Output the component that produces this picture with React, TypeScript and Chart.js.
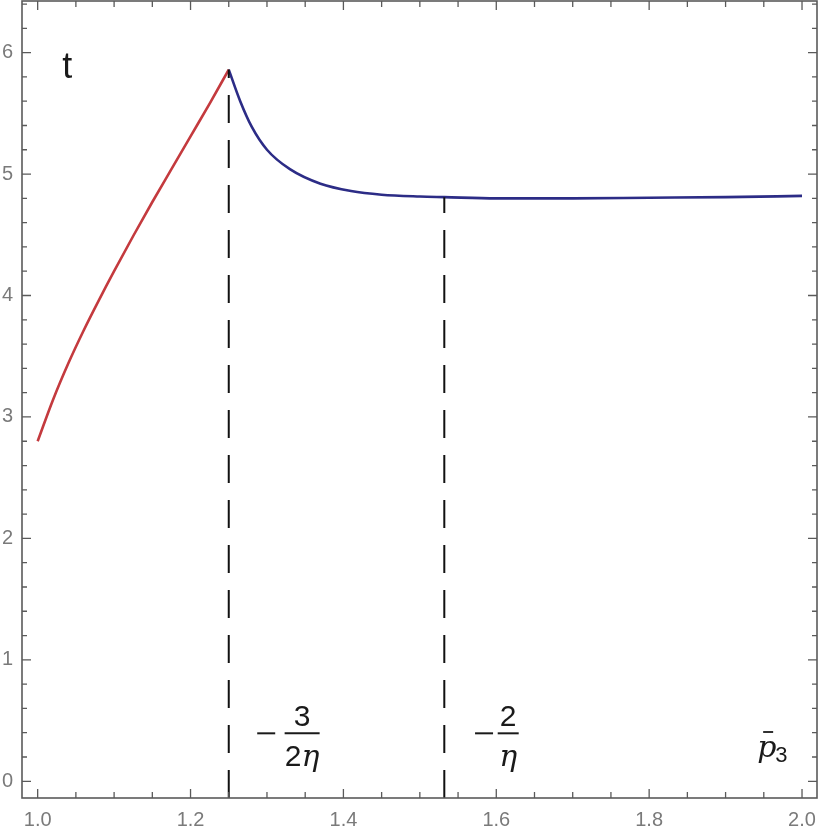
import React, { useEffect, useRef } from "react";
import { Chart, registerables } from "chart.js";

Chart.register(...registerables);

// ---- data ----
const redX = [1.0, 1.02, 1.04, 1.06, 1.08, 1.1, 1.125, 1.15, 1.175, 1.2, 1.225, 1.25];
const redY = [2.8, 3.14, 3.44, 3.71, 3.96, 4.2, 4.49, 4.77, 5.04, 5.31, 5.58, 5.86];
const blueX = [1.25, 1.265, 1.28, 1.3, 1.33, 1.37, 1.41, 1.45, 1.5, 1.532, 1.6, 1.7, 1.8, 1.9, 2.0];
const blueY = [5.86, 5.6, 5.39, 5.2, 5.04, 4.92, 4.86, 4.83, 4.815, 4.81, 4.8, 4.8, 4.805, 4.81, 4.82];
const dashX = [1.25, 1.532];
const dashTop = [5.86, 4.81];
const xMajor = [1.0, 1.2, 1.4, 1.6, 1.8, 2.0];
const yMajor = [0, 1, 2, 3, 4, 5, 6];
const xRange = [0.9795, 2.0196];
const yRange = [-0.1376, 6.425];

const FRAME = "#5a5a5a";

const decorPlugin = {
  id: "decor",
  afterDraw(chart: any) {
    const { ctx, chartArea: a, scales } = chart;
    const xs = scales.x;
    const ys = scales.y;
    ctx.save();
    // frame
    ctx.strokeStyle = FRAME;
    ctx.lineWidth = 1.6;
    ctx.strokeRect(a.left, a.top, a.right - a.left, a.bottom - a.top);
    // ticks (inward, all sides)
    ctx.lineWidth = 1.3;
    ctx.beginPath();
    for (let i = 0; i <= 20; i++) {
      const v = 1 + i * 0.05;
      const px = xs.getPixelForValue(v);
      const len = i % 4 === 0 ? 9 : 6;
      ctx.moveTo(px, a.bottom);
      ctx.lineTo(px, a.bottom - len);
      ctx.moveTo(px, a.top);
      ctx.lineTo(px, a.top + len);
    }
    for (let i = 0; i <= 32; i++) {
      const v = i * 0.2;
      if (v > yRange[1]) break;
      const py = ys.getPixelForValue(v);
      const len = i % 5 === 0 ? 9 : 5;
      ctx.moveTo(a.left, py);
      ctx.lineTo(a.left + len, py);
      ctx.moveTo(a.right, py);
      ctx.lineTo(a.right - len, py);
    }
    ctx.stroke();

    // texts
    ctx.fillStyle = "#1a1a1a";
    ctx.strokeStyle = "#1a1a1a";
    ctx.textBaseline = "alphabetic";
    // t
    ctx.font = "36px 'Liberation Sans'";
    ctx.textAlign = "left";
    ctx.fillText("t", xs.getPixelForValue(1.032), ys.getPixelForValue(5.79));

    const fraction = (cx: number, barY: number, num: string, den: string[], minusX: number, barW: number) => {
      ctx.lineWidth = 2;
      ctx.beginPath();
      ctx.moveTo(minusX - 9, barY);
      ctx.lineTo(minusX + 9, barY);
      ctx.stroke();
      ctx.beginPath();
      ctx.moveTo(cx - barW / 2, barY);
      ctx.lineTo(cx + barW / 2, barY);
      ctx.stroke();
      ctx.font = "30px 'Liberation Sans'";
      ctx.textAlign = "center";
      ctx.fillText(num, cx, barY - 7);
      const parts: { t: string; f: string }[] = [];
      if (den[0]) parts.push({ t: den[0], f: "30px 'Liberation Sans'" });
      parts.push({ t: den[1], f: "italic 30px 'DejaVu Serif'" });
      let total = 0;
      for (const p of parts) {
        ctx.font = p.f;
        total += ctx.measureText(p.t).width;
      }
      let x = cx - total / 2;
      ctx.textAlign = "left";
      for (const p of parts) {
        ctx.font = p.f;
        ctx.fillText(p.t, x, barY + 33);
        x += ctx.measureText(p.t).width;
      }
    };
    const by = ys.getPixelForValue(0.395);
    fraction(xs.getPixelForValue(1.346), by, "3", ["2", "η"], xs.getPixelForValue(1.299), 35);
    fraction(xs.getPixelForValue(1.6156), by, "2", ["", "η"], xs.getPixelForValue(1.584), 21);

    const px0 = xs.getPixelForValue(1.9413);
    const pBase = ys.getPixelForValue(0.2);
    ctx.font = "italic 30px 'DejaVu Serif'";
    ctx.textAlign = "left";
    ctx.fillText("p", px0, pBase);
    const pw = ctx.measureText("p").width;
    ctx.lineWidth = 1.8;
    ctx.beginPath();
    ctx.moveTo(px0 + 6, pBase - 25);
    ctx.lineTo(px0 + 16, pBase - 25);
    ctx.stroke();
    ctx.font = "22px 'Liberation Sans'";
    ctx.fillText("3", px0 + pw - 1, pBase + 5);
    ctx.restore();
  },
};

export default function App() {
  const ref = useRef<HTMLCanvasElement>(null);
  useEffect(() => {
    if (!ref.current) return;
    const red = redX.map((x, i) => ({ x, y: redY[i] }));
    const blue = blueX.map((x, i) => ({ x, y: blueY[i] }));
    const dashes = dashX.map((x, i) => ({
      type: "line" as const,
      data: [
        { x, y: yRange[0] },
        { x, y: dashTop[i] },
      ],
      borderColor: "#111",
      borderWidth: 2,
      borderDash: [28, 17],
      pointRadius: 0,
      fill: false,
    }));
    const chart = new Chart(ref.current, {
      type: "line",
      data: {
        datasets: [
          ...dashes,
          {
            data: red,
            borderColor: "#c43a3e",
            borderWidth: 2.6,
            pointRadius: 0,
            cubicInterpolationMode: "monotone",
            fill: false,
          },
          {
            data: blue,
            borderColor: "#2c2c86",
            borderWidth: 2.6,
            pointRadius: 0,
            cubicInterpolationMode: "monotone",
            fill: false,
          },
        ],
      } as any,
      options: {
        animation: false,
        responsive: false,
        maintainAspectRatio: false,
        layout: { padding: { top: 1, right: 13, left: 0, bottom: 0 } },
        plugins: { legend: { display: false }, tooltip: { enabled: false } },
        scales: {
          x: {
            type: "linear",
            min: xRange[0],
            max: xRange[1],
            grid: { display: false, drawTicks: false },
            border: { display: false },
            afterBuildTicks: (s: any) => {
              s.ticks = xMajor.map((v) => ({ value: v }));
            },
            afterFit: (s: any) => {
              s.height = 38;
              s.paddingLeft = 0;
              s.paddingRight = 0;
            },
            ticks: {
              color: "#7a7a7a",
              font: { family: "'Liberation Sans'", size: 20 },
              padding: 10,
              maxRotation: 0,
              autoSkip: false,
              callback: (v: any) => Number(v).toFixed(1),
            },
          },
          y: {
            type: "linear",
            min: yRange[0],
            max: yRange[1],
            grid: { display: false, drawTicks: false },
            border: { display: false },
            afterBuildTicks: (s: any) => {
              s.ticks = yMajor.map((v) => ({ value: v }));
            },
            afterFit: (s: any) => {
              s.width = 34;
              s.paddingTop = 0;
              s.paddingBottom = 0;
            },
            ticks: {
              color: "#7a7a7a",
              font: { family: "'Liberation Sans'", size: 20 },
              padding: 9,
              autoSkip: false,
              callback: (v: any) => String(v),
            },
          },
        },
      } as any,
      plugins: [decorPlugin],
    });
    return () => chart.destroy();
  }, []);
  return (
    <div style={{ position: "absolute", left: -12, top: 0, width: 842, height: 836, overflow: "hidden" }}>
      <canvas ref={ref} width={842} height={836} style={{ display: "block" }} />
    </div>
  );
}
